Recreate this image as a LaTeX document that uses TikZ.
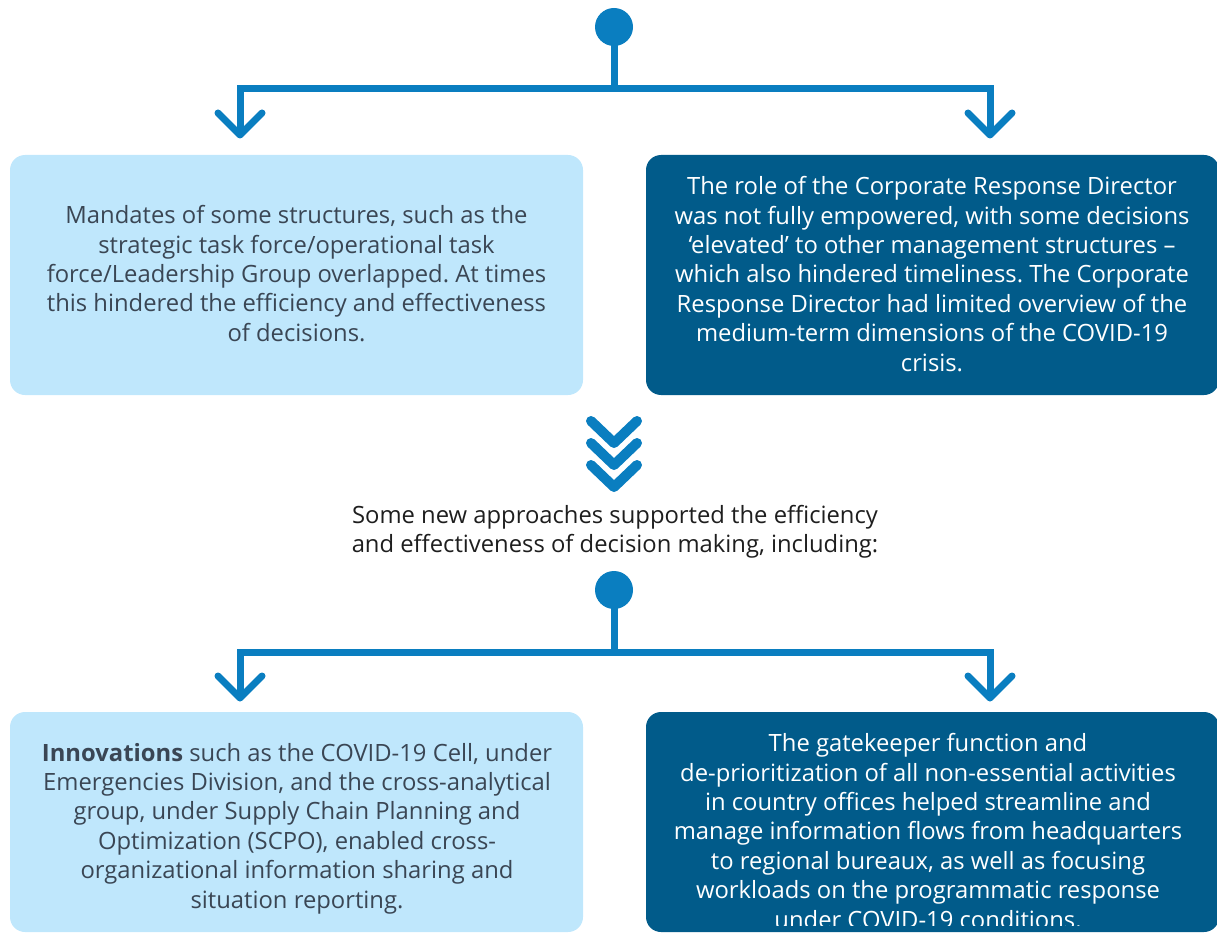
\documentclass[tikz,border=0pt]{standalone}
\usepackage{fontspec}
\setmainfont{Open Sans}
\frenchspacing
\definecolor{lineblue}{HTML}{0A7EC0}
\definecolor{lightbox}{HTML}{BFE7FC}
\definecolor{darkbox}{HTML}{015B8A}
\definecolor{greytext}{HTML}{3A4654}
\definecolor{plaintext}{HTML}{1E1E1E}
\tikzset{
  dot/.style={circle, fill=lineblue, draw=none, minimum size=38pt, inner sep=0pt},
  connector/.style={draw=lineblue, line width=7pt, line join=miter},
  arrowhead/.style={draw=lineblue, line width=7pt, line cap=round, line join=round},
  chevron/.style={draw=lineblue, line width=10pt, line cap=round, line join=round},
  lightpanel/.style={fill=lightbox, draw=none, rounded corners=15pt, inner sep=0pt},
  darkpanel/.style={fill=darkbox, draw=none, rounded corners=15pt, inner sep=0pt},
  bodytext/.style={align=center, inner sep=0pt, font=\fontsize{23.8}{29.4}\selectfont},
}
\begin{document}
\begin{tikzpicture}[x=1pt, y=-1pt]
\useasboundingbox (0,0) rectangle (1217,933);

% ---------- upper split ----------
\node[dot] (topdot) at (614,27) {};
\coordinate (barA) at (614,89);
\coordinate (tipAL) at (240,135);
\coordinate (tipAR) at (990,135);
\draw[connector] (topdot.center) -- (barA);
\draw[connector] (tipAL) |- (tipAR |- barA) -- (tipAR);
\draw[arrowhead] (tipAL) ++(-22,-22) -- (tipAL) -- ++(22,-22);
\draw[arrowhead] (tipAR) ++(-22,-22) -- (tipAR) -- ++(22,-22);

% ---------- upper panels ----------
\path[lightpanel] (10,155) rectangle (583,395);
\path[darkpanel] (646,155) rectangle (1219,395);
\node[bodytext, text=greytext] (mandates) at (296.5,273.5) {Mandates of some structures, such as the\\
strategic task force/operational task\\
force/Leadership Group overlapped. At times\\
this hindered the efficiency and effectiveness\\
of decisions.};
\node[bodytext, text=white] (director) at (932,274) {The role of the Corporate Response Director\\
was not fully empowered, with some decisions\\
‘elevated’ to other management structures –\\
which also hindered timeliness. The Corporate\\
Response Director had limited overview of the\\
medium-term dimensions of the COVID-19\\
crisis.};

% ---------- triple chevron ----------
\foreach \dy in {0,22,44} {
  \draw[chevron] (591,421+\dy) -- (614,443+\dy) -- (637,421+\dy);
}

\node[bodytext, text=plaintext] (approaches) at (615,532) {Some new approaches supported the efficiency\\
and effectiveness of decision making, including:};

% ---------- lower split ----------
\node[dot] (lowdot) at (614,590) {};
\coordinate (barB) at (614,652);
\coordinate (tipBL) at (240,698);
\coordinate (tipBR) at (990,698);
\draw[connector] (lowdot.center) -- (barB);
\draw[connector] (tipBL) |- (tipBR |- barB) -- (tipBR);
\draw[arrowhead] (tipBL) ++(-22,-22) -- (tipBL) -- ++(22,-22);
\draw[arrowhead] (tipBR) ++(-22,-22) -- (tipBR) -- ++(22,-22);

% ---------- lower panels ----------
\path[lightpanel] (10,712) rectangle (583,932);
\path[darkpanel] (646,712) rectangle (1219,932);
\node[bodytext, text=greytext] (innovations) at (297,828.5) {\textbf{Innovations} such as the COVID-19 Cell, under\\
Emergencies Division, and the cross-analytical\\
group, under Supply Chain Planning and\\
Optimization (SCPO), enabled cross-\\
organizational information sharing and\\
situation reporting.};
% the text frame of this panel cuts off its last line
\begin{scope}
  \clip (646,712) rectangle (1219,925);
  \node[bodytext, text=white] (gatekeeper) at (928,831) {The gatekeeper function and\\
  de-prioritization of all non-essential activities\\
  in country offices helped streamline and\\
  manage information flows from headquarters\\
  to regional bureaux, as well as focusing\\
  workloads on the programmatic response\\
  under COVID-19 conditions.};
\end{scope}
\end{tikzpicture}
\end{document}
